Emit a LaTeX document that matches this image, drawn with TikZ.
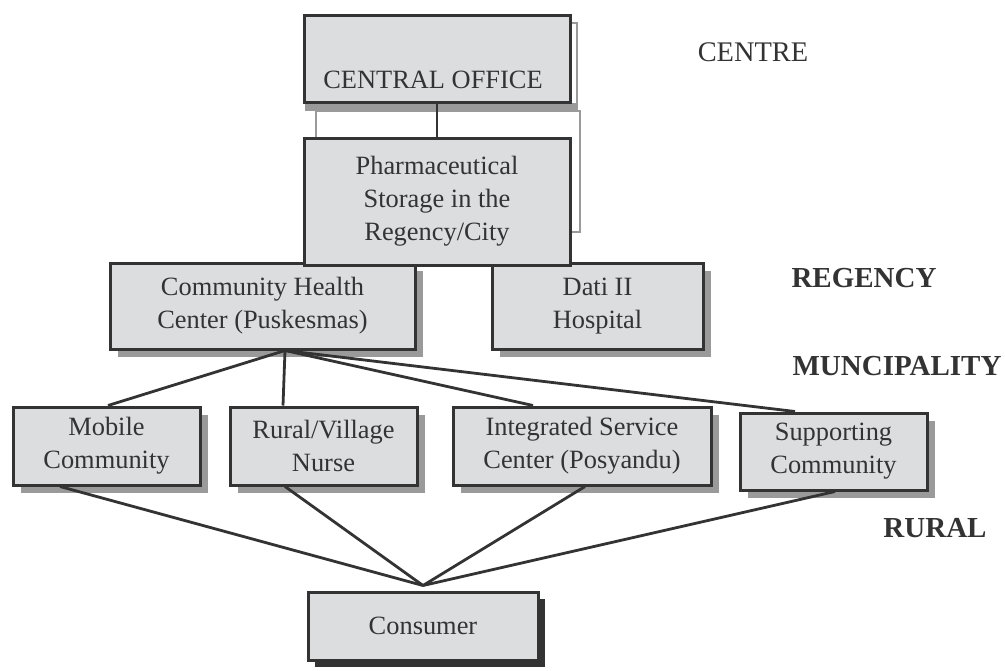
\documentclass[tikz,border=0pt]{standalone}
\usepackage{fontspec}
\setmainfont{Liberation Serif}
\usetikzlibrary{shadows,calc}
\definecolor{boxfill}{HTML}{DCDDDF}
\definecolor{boxline}{HTML}{333333}
\definecolor{shadowgray}{HTML}{9A9A9A}
\definecolor{darkshadow}{HTML}{333333}
\definecolor{txt}{HTML}{333333}
\tikzset{
  orgbox/.style={draw=boxline, line width=1.5pt, fill=boxfill, text=txt, align=center, inner sep=0pt,
    font=\fontsize{13.2}{16.5}\selectfont},
  withshadow/.style={general shadow={fill=shadowgray, shadow xshift=4pt, shadow yshift=-4pt}},
  withdarkshadow/.style={general shadow={fill=darkshadow, shadow xshift=3.5pt, shadow yshift=-3.5pt}},
  conn/.style={draw=boxline, line width=1.4pt},
  boxtext/.style={text=txt, inner sep=0pt, font=\fontsize{13.2}{16.5}\selectfont},
  levellabel/.style={text=txt, inner sep=0pt, font=\fontsize{14.5}{17}\selectfont\bfseries},
  plainlabel/.style={text=txt, inner sep=0pt, font=\fontsize{14.2}{17}\selectfont},
}
\begin{document}
\begin{tikzpicture}[x=0.5pt,y=-0.5pt]
\useasboundingbox (0,0) rectangle (1005,670);

% gray outlines behind the top boxes
\fill[shadowgray] (305,103) rectangle (578,111);
\draw[shadowgray, line width=1pt] (570,23) -- (577,23) -- (577,110);
\draw[shadowgray, line width=1pt] (316,111) rectangle (580,232);

% regency level
\node[orgbox, withshadow, minimum width=152.5pt, minimum height=43pt] (chc) at (262.5,306)
  {Community Health\\Center (Puskesmas)};
\node[orgbox, withshadow, minimum width=105.5pt, minimum height=43pt] (dati) at (597.5,306)
  {Dati II\\Hospital};

% top boxes
\node[orgbox, minimum width=133pt, minimum height=63.5pt] (ph) at (437,201.5)
  {Pharmaceutical\\Storage in the\\Regency/City};
\node[orgbox, minimum width=133pt, minimum height=43.5pt] (co) at (437,59) {};
\node[boxtext] (cotext) at (433,80) {CENTRAL OFFICE};

% rural level
\node[orgbox, withshadow, minimum width=93.5pt, minimum height=39pt] (mob) at (106.5,446)
  {Mobile\\Community};
\node[orgbox, withshadow, minimum width=93.5pt, minimum height=39pt] (rur) at (323.5,446)
  {Rural/Village\\Nurse};
\node[orgbox, withshadow, minimum width=129pt, minimum height=39pt] (isc) at (582,446)
  {Integrated Service\\Center (Posyandu)};
\node[orgbox, withshadow, minimum width=93.5pt, minimum height=38.5pt] (sup) at (833.5,451.5)
  {Supporting\\Community};

\node[orgbox, withdarkshadow, minimum width=115pt, minimum height=34pt] (con) at (423,626) {Consumer};

% connectors
\draw[conn] (co.south) -- (ph.north);
\coordinate (hub) at ([xshift=11.25pt]chc.south);
\draw[conn] (hub) -- ([xshift=0.75pt]mob.north);
\draw[conn] (hub) -- ([xshift=-20.25pt]rur.north);
\draw[conn] (hub) -- ([xshift=-24.5pt]isc.north);
\draw[conn] (hub) -- ([xshift=-19.25pt]sup.north);

\coordinate (apex) at ([yshift=2.5pt]con.north);
\draw[conn] ([xshift=-23.25pt]mob.south) -- (apex);
\draw[conn] ([xshift=-19.25pt]rur.south) -- (apex);
\draw[conn] ([xshift=1.5pt]isc.south) -- (apex);
\draw[conn] ([xshift=0.75pt]sup.south) -- (apex);

% level labels
\node[plainlabel] (centre) at (753,52) {CENTRE};
\node[levellabel] (regency) at (864,278) {REGENCY};
\node[levellabel] (munc) at (897,366) {MUNCIPALITY};
\node[levellabel] (rural) at (935,528) {RURAL};
\end{tikzpicture}
\end{document}
